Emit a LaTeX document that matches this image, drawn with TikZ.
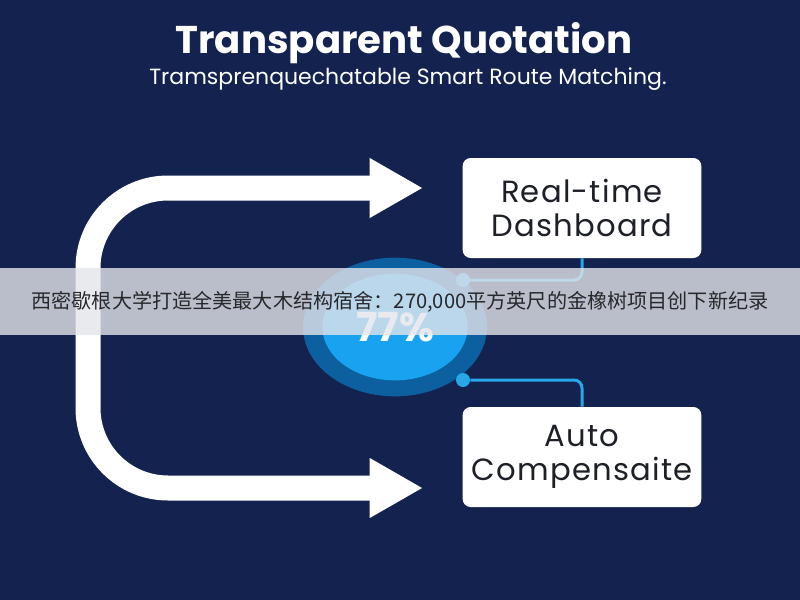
\documentclass[tikz,border=0pt]{standalone}
\usepackage{fontspec}
\setmainfont{Poppins}
\newfontfamily\cjkfont{Noto Sans CJK SC}
\newfontfamily\widefont[LetterSpace=4]{Poppins}
\usetikzlibrary{arrows.meta,positioning,calc,shapes.geometric}
\definecolor{navybg}{RGB}{19,34,78}
\definecolor{ringblue}{RGB}{12,96,160}
\definecolor{coreblue}{RGB}{24,162,240}
\definecolor{linkblue}{RGB}{38,168,232}
\definecolor{boxtext}{RGB}{30,32,40}
\definecolor{bannergray}{RGB}{228,229,234}
\definecolor{bannertext}{RGB}{40,40,44}

\tikzset{
  infobox/.style={fill=white, rounded corners=6pt, minimum width=179pt, minimum height=75pt, align=center, text=boxtext, font=\widefont\fontsize{23}{25}\selectfont},
  linkdot/.style={circle, fill=linkblue, inner sep=0pt, minimum size=10.5pt},
  link/.style={draw=linkblue, line width=2.25pt, rounded corners=6pt},
  bigtip/.tip={Triangle[width=42pt,length=40pt]}
}

\begin{document}
\begin{tikzpicture}[x=0.75pt, y=-0.75pt]
    \fill[navybg] (0,0) rectangle (800,600);
    \useasboundingbox (0,0) rectangle (800,600);

    \node[text=white, font=\bfseries\fontsize{29}{32}\selectfont] (title) at (404,43) {Transparent Quotation};
    \node[text=white, font=\fontsize{16.5}{19}\selectfont] (subtitle) at (408,79) {Tramsprenquechatable Smart Route Matching.};

    \coordinate (topend) at (423,188);
    \coordinate (botend) at (423,488);
    \draw[white, line width=18.75pt, rounded corners=60pt, bigtip-bigtip] (topend) -- ++(-335,0) -- ++(0,300) -- (botend);

    \node[ellipse, fill=ringblue, minimum width=138pt, minimum height=104pt] (ring) at (395,327) {};
    \node[ellipse, fill=coreblue, minimum width=109pt, minimum height=80pt, text=white, font=\bfseries\fontsize{30}{32}\selectfont] (core) at (ring.center) {77\%};

    \node[infobox] (dash) at (582,208) {Real-time\\Dashboard};
    \node[infobox] (comp) at (582,457) {Auto\\Compensaite};

    \node[linkdot] (dottop) at (463,280) {};
    \node[linkdot] (dotbot) at (463,380) {};
    \draw[link] (dash.south) |- (dottop);
    \draw[link] (dotbot) -| (comp.north);

    \fill[bannergray, opacity=0.8] (0,268) rectangle (800,335);
    \node[text=bannertext, font=\cjkfont\fontsize{15.1}{18}\selectfont] (banner) at (400,302) {西密歇根大学打造全美最大木结构宿舍：270,000平方英尺的金橡树项目创下新纪录};
\end{tikzpicture}
\end{document}
